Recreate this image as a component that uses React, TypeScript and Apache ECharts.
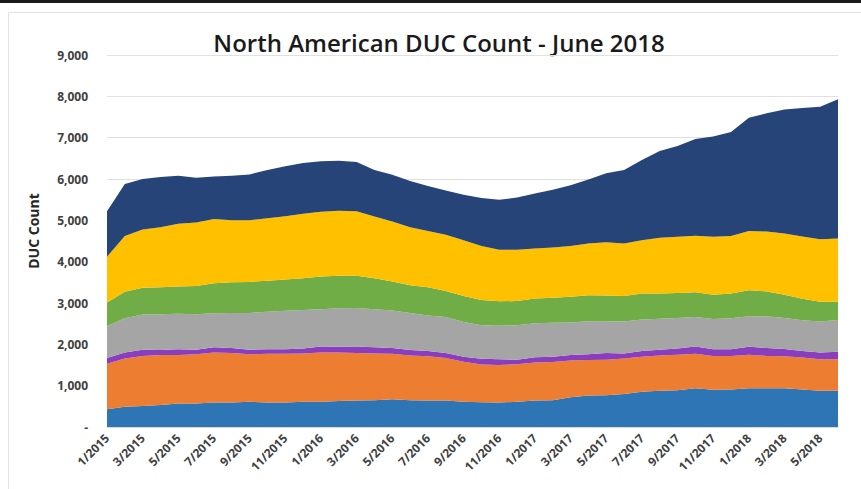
import React, { useEffect, useRef } from "react";
import * as echarts from "echarts";

// Monthly categories, 1/2015 through 6/2018
const months: string[] = [];
for (let y = 2015; y <= 2018; y++) {
  for (let m = 1; m <= 12; m++) {
    if (y === 2018 && m > 6) break;
    months.push(`${m}/${y}`);
  }
}

// DUC counts per layer, bottom to top
const layerBlue = [430, 490, 510, 530, 570, 570, 590, 590, 610, 590, 590, 610, 610, 630, 640, 650, 670, 650, 640, 640, 610, 600, 590, 610, 640, 650, 720, 760, 770, 800, 850, 880, 890, 940, 900, 910, 940, 940, 940, 910, 880, 880];
const layerOrange = [1100, 1170, 1210, 1210, 1170, 1190, 1210, 1200, 1150, 1180, 1180, 1170, 1190, 1170, 1150, 1130, 1100, 1080, 1070, 1030, 970, 910, 910, 910, 920, 920, 890, 860, 860, 860, 850, 850, 860, 830, 820, 810, 810, 780, 770, 770, 760, 760];
const layerPurple = [140, 140, 150, 120, 140, 110, 130, 120, 110, 110, 110, 120, 150, 140, 160, 150, 140, 130, 130, 120, 120, 140, 140, 110, 130, 130, 130, 140, 160, 120, 140, 140, 150, 180, 160, 160, 190, 190, 180, 160, 160, 180];
const layerGray = [770, 830, 850, 870, 860, 860, 820, 850, 890, 910, 930, 930, 900, 930, 930, 920, 910, 900, 860, 870, 840, 810, 810, 830, 820, 820, 790, 800, 770, 770, 760, 750, 740, 710, 730, 750, 740, 770, 750, 740, 750, 770];
const layerGreen = [570, 640, 650, 650, 660, 680, 730, 740, 750, 750, 760, 770, 790, 790, 780, 750, 700, 670, 680, 630, 630, 610, 590, 590, 600, 610, 620, 630, 620, 620, 630, 610, 600, 600, 590, 600, 630, 600, 560, 520, 480, 440];
const layerYellow = [1110, 1350, 1410, 1450, 1520, 1540, 1550, 1500, 1490, 1510, 1530, 1560, 1570, 1570, 1560, 1490, 1450, 1400, 1360, 1360, 1350, 1310, 1250, 1240, 1210, 1210, 1230, 1250, 1290, 1270, 1290, 1350, 1360, 1370, 1400, 1390, 1430, 1450, 1480, 1510, 1510, 1530];
const layerNavy = [1100, 1260, 1220, 1220, 1160, 1080, 1030, 1080, 1110, 1170, 1210, 1230, 1220, 1210, 1190, 1130, 1130, 1120, 1090, 1070, 1100, 1160, 1210, 1260, 1330, 1400, 1470, 1550, 1670, 1780, 1940, 2100, 2200, 2340, 2430, 2520, 2740, 2860, 3000, 3110, 3210, 3370];

const layers = [
  { name: "Layer 1", data: layerBlue, color: "#2E75B6" },
  { name: "Layer 2", data: layerOrange, color: "#ED7D31" },
  { name: "Layer 3", data: layerPurple, color: "#8A3DBF" },
  { name: "Layer 4", data: layerGray, color: "#A5A5A5" },
  { name: "Layer 5", data: layerGreen, color: "#70AD47" },
  { name: "Layer 6", data: layerYellow, color: "#FFC000" },
  { name: "Layer 7", data: layerNavy, color: "#264478" },
];

const yTicks = { min: 0, max: 9000, interval: 1000 };

export default function App() {
  const ref = useRef<HTMLDivElement>(null);

  useEffect(() => {
    document.body.style.margin = "0";
    if (!ref.current) return;
    const chart = echarts.init(ref.current, null, { renderer: "svg" });
    chart.setOption({
      animation: false,
      backgroundColor: "#ffffff",
      grid: { left: 107, right: 23, top: 55, bottom: 62, containLabel: false },
      graphic: [
        { type: "rect", shape: { x: 0, y: 0, width: 861, height: 3 }, style: { fill: "#1a1a1a" }, silent: true },
        { type: "line", shape: { x1: 8.5, y1: 12.5, x2: 8.5, y2: 489 }, style: { stroke: "#e2e2e2", lineWidth: 1 }, silent: true },
        { type: "line", shape: { x1: 8.5, y1: 12.5, x2: 861, y2: 12.5 }, style: { stroke: "#e2e2e2", lineWidth: 1 }, silent: true },
        {
          type: "text",
          x: 439,
          y: 42,
          style: {
            text: "North American DUC Count - June 2018",
            font: "600 24px 'Open Sans', sans-serif",
            fill: "#1a1a1a",
            textAlign: "center",
            textVerticalAlign: "middle",
          },
        },
        {
          type: "text",
          x: 33,
          y: 231,
          rotation: Math.PI / 2,
          style: {
            text: "DUC Count",
            font: "bold 14px 'Open Sans', sans-serif",
            fill: "#262626",
            textAlign: "center",
            textVerticalAlign: "middle",
          },
        },
      ],
      xAxis: {
        type: "category",
        data: months,
        boundaryGap: false,
        axisLine: { lineStyle: { color: "#d9d9d9" } },
        axisTick: { show: false },
        axisLabel: {
          interval: 1,
          rotate: 45,
          margin: 9,
          fontFamily: "'Open Sans', sans-serif",
          fontWeight: "bold",
          fontSize: 12,
          color: "#404040",
        },
      },
      yAxis: {
        type: "value",
        min: yTicks.min,
        max: yTicks.max,
        interval: yTicks.interval,
        axisLine: { show: false },
        axisTick: { show: false },
        splitLine: { lineStyle: { color: "#e0e0e0" } },
        axisLabel: {
          margin: 19,
          fontFamily: "'Open Sans', sans-serif",
          fontWeight: "bold",
          fontSize: 12,
          color: "#404040",
          formatter: (v: number) => (v === 0 ? "-" : v.toLocaleString("en-US")),
        },
      },
      series: layers.map((l) => ({
        name: l.name,
        type: "line",
        stack: "total",
        data: l.data,
        symbol: "none",
        lineStyle: { width: 0 },
        areaStyle: { color: l.color, opacity: 1 },
        itemStyle: { color: l.color },
      })),
    });
    return () => chart.dispose();
  }, []);

  return <div ref={ref} style={{ width: 861, height: 489 }} />;
}
